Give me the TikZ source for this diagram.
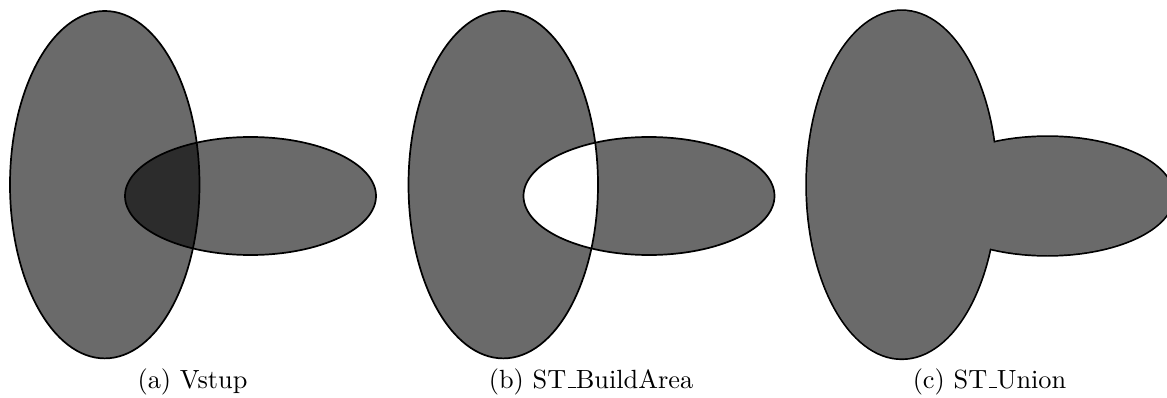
\documentclass[tikz,border=0pt]{standalone}
\newcommand{\otund}{\leavevmode\kern.06em\vbox{\hrule width.3em}}
\begin{document}
\begin{tikzpicture}[x=0.38pt,y=0.38pt,
  outl/.style={draw=black,line width=0.65pt},
  tfill/.style={fill=black,fill opacity=0.585},
  captext/.style={anchor=base,inner sep=0pt,font=\normalsize}]
\definecolor{areagray}{RGB}{106,106,106}
\useasboundingbox (0,0) rectangle (1167,397);
% (a) input
\begin{scope}
  \path[tfill] (104.75,212.3) ellipse [x radius=94.75,y radius=173.7];
  \path[tfill] (250.5,201) ellipse [x radius=125.5,y radius=59];
  \draw[outl] (104.75,212.3) ellipse [x radius=94.75,y radius=173.7];
  \draw[outl] (250.5,201) ellipse [x radius=125.5,y radius=59];
  \node[captext] (capa) at (192.5,9) {(a) Vstup};
\end{scope}
% (b) ST_BuildArea
\begin{scope}[xshift=398.5*0.38pt]
  \path[fill=areagray,even odd rule] (104.75,212.3) ellipse [x radius=94.75,y radius=173.7]
    (250.5,201) ellipse [x radius=125.5,y radius=59];
  \draw[outl] (104.75,212.3) ellipse [x radius=94.75,y radius=173.7];
  \draw[outl] (250.5,201) ellipse [x radius=125.5,y radius=59];
  \node[captext] (capb) at (192.5,9) {(b) ST\otund BuildArea};
\end{scope}
% (c) ST_Union
\begin{scope}[xshift=797*0.38pt]
  \path[fill=areagray,draw=black,line width=1.3pt] (104.75,212.3) ellipse [x radius=94.75,y radius=173.7];
  \path[fill=areagray,draw=black,line width=1.3pt] (250.5,201) ellipse [x radius=125.5,y radius=59];
  \path[fill=areagray] (104.75,212.3) ellipse [x radius=94.75,y radius=173.7];
  \path[fill=areagray] (250.5,201) ellipse [x radius=125.5,y radius=59];
  \node[captext] (capc) at (192.5,9) {(c) ST\otund Union};
\end{scope}
\end{tikzpicture}
\end{document}
